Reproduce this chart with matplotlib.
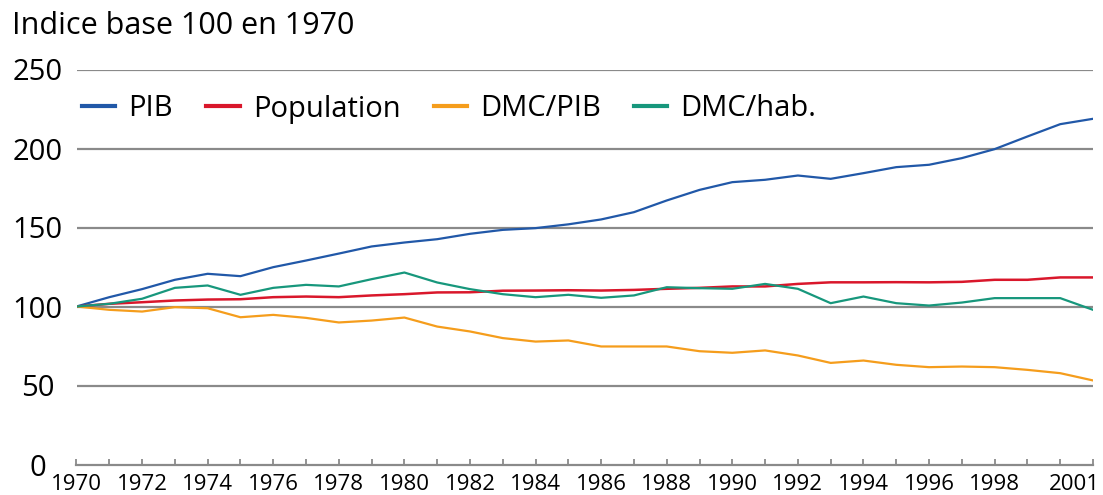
import numpy as np
import matplotlib.pyplot as plt
import matplotlib.transforms as mtransforms

plt.rcParams['font.family'] = ['Open Sans', 'DejaVu Sans']

annees = list(range(1970, 2002))
pib = [100, 105.9, 111, 116.9, 120.7, 119.2, 124.9, 129.1, 133.5, 138, 140.5, 142.6, 146, 148.5, 149.6, 152,
       155.1, 159.7, 167.1, 173.8, 178.7, 180.2, 182.9, 180.8, 184.4, 188.2, 189.7, 193.9, 199.6, 207.6, 215.4, 218.8]
population = [100, 101.7, 102.7, 103.8, 104.4, 104.6, 105.9, 106.3, 105.9, 107, 107.8, 108.9, 109, 110, 110.1, 110.3,
              110.1, 110.5, 111.2, 111.8, 112.7, 112.7, 114.3, 115.3, 115.3, 115.4, 115.3, 115.6, 116.9, 116.9, 118.4, 118.4]
dmc_pib = [100, 97.9, 96.8, 99.6, 98.9, 93.2, 94.7, 92.8, 89.9, 91.1, 93, 87.3, 84.2, 80, 77.8, 78.5,
           74.7, 74.7, 74.7, 71.7, 70.7, 72.2, 69, 64.3, 65.8, 63.1, 61.6, 62, 61.6, 59.9, 57.8, 53.2]
dmc_hab = [100, 101.7, 104.9, 111.8, 113.3, 107.4, 111.8, 113.7, 112.7, 117.3, 121.5, 115.2, 111, 107.8, 105.9, 107.4,
           105.5, 107, 112.2, 111.6, 111.2, 114.3, 111.2, 102.1, 106.3, 102.1, 100.6, 102.5, 105.3, 105.3, 105.3, 97.9]

etiquettes = [1970, 1972, 1974, 1976, 1978, 1980, 1982, 1984, 1986, 1988, 1990, 1992, 1994, 1996, 1998, 2001]
yticks = [0, 50, 100, 150, 200, 250]

fig = plt.figure(figsize=(11.03, 4.95), dpi=100)
ax = fig.add_axes([76.5/1103, 1-464.5/495, (1093-76.5)/1103, 395/495])

gris = '#8a8a8a'
for v in yticks[1:]:
    ax.axhline(v, color=gris, lw=1.6, zorder=1)

ax.plot(annees, pib, color='#2158a8', lw=1.6, label='PIB', zorder=3)
ax.plot(annees, population, color='#d9172b', lw=1.8, label='Population', zorder=3)
ax.plot(annees, dmc_pib, color='#f59d1c', lw=1.6, label='DMC/PIB', zorder=3)
ax.plot(annees, dmc_hab, color='#17977c', lw=1.6, label='DMC/hab.', zorder=4)

ax.set_xlim(1970, 2001)
ax.set_ylim(0, 250)

for s in ['top', 'right', 'left']:
    ax.spines[s].set_visible(False)
ax.spines['bottom'].set_color(gris)
ax.spines['bottom'].set_linewidth(1.6)

ax.set_xticks(annees)
ax.set_xticklabels([str(a) if a in etiquettes else '' for a in annees], fontsize=16)
ax.tick_params(axis='x', direction='in', length=4, width=1.3, color=gris, pad=7)
dernier = ax.get_xticklabels()[-1]
dernier.set_horizontalalignment('right')
dernier.set_transform(dernier.get_transform() + mtransforms.ScaledTranslation(7/100, 0, fig.dpi_scale_trans))

ax.set_yticks(yticks)
ax.set_yticklabels([str(v) for v in yticks], fontsize=21)
ax.tick_params(axis='y', length=0, pad=28)
for t in ax.get_yticklabels():
    t.set_horizontalalignment('center')

fig.text(12/1103, 1-26/495, 'Indice base 100 en 1970', fontsize=22, va='center', ha='left')

leg = ax.legend(loc='center left', bbox_to_anchor=(82/1103, 1-109/495), bbox_transform=fig.transFigure,
                ncol=4, frameon=False, fontsize=21, handlelength=1.14, handletextpad=0.45,
                columnspacing=1.14, borderpad=0, borderaxespad=0)
for l in leg.get_lines():
    l.set_linewidth(3)

fig.savefig('out.png', dpi=100)
